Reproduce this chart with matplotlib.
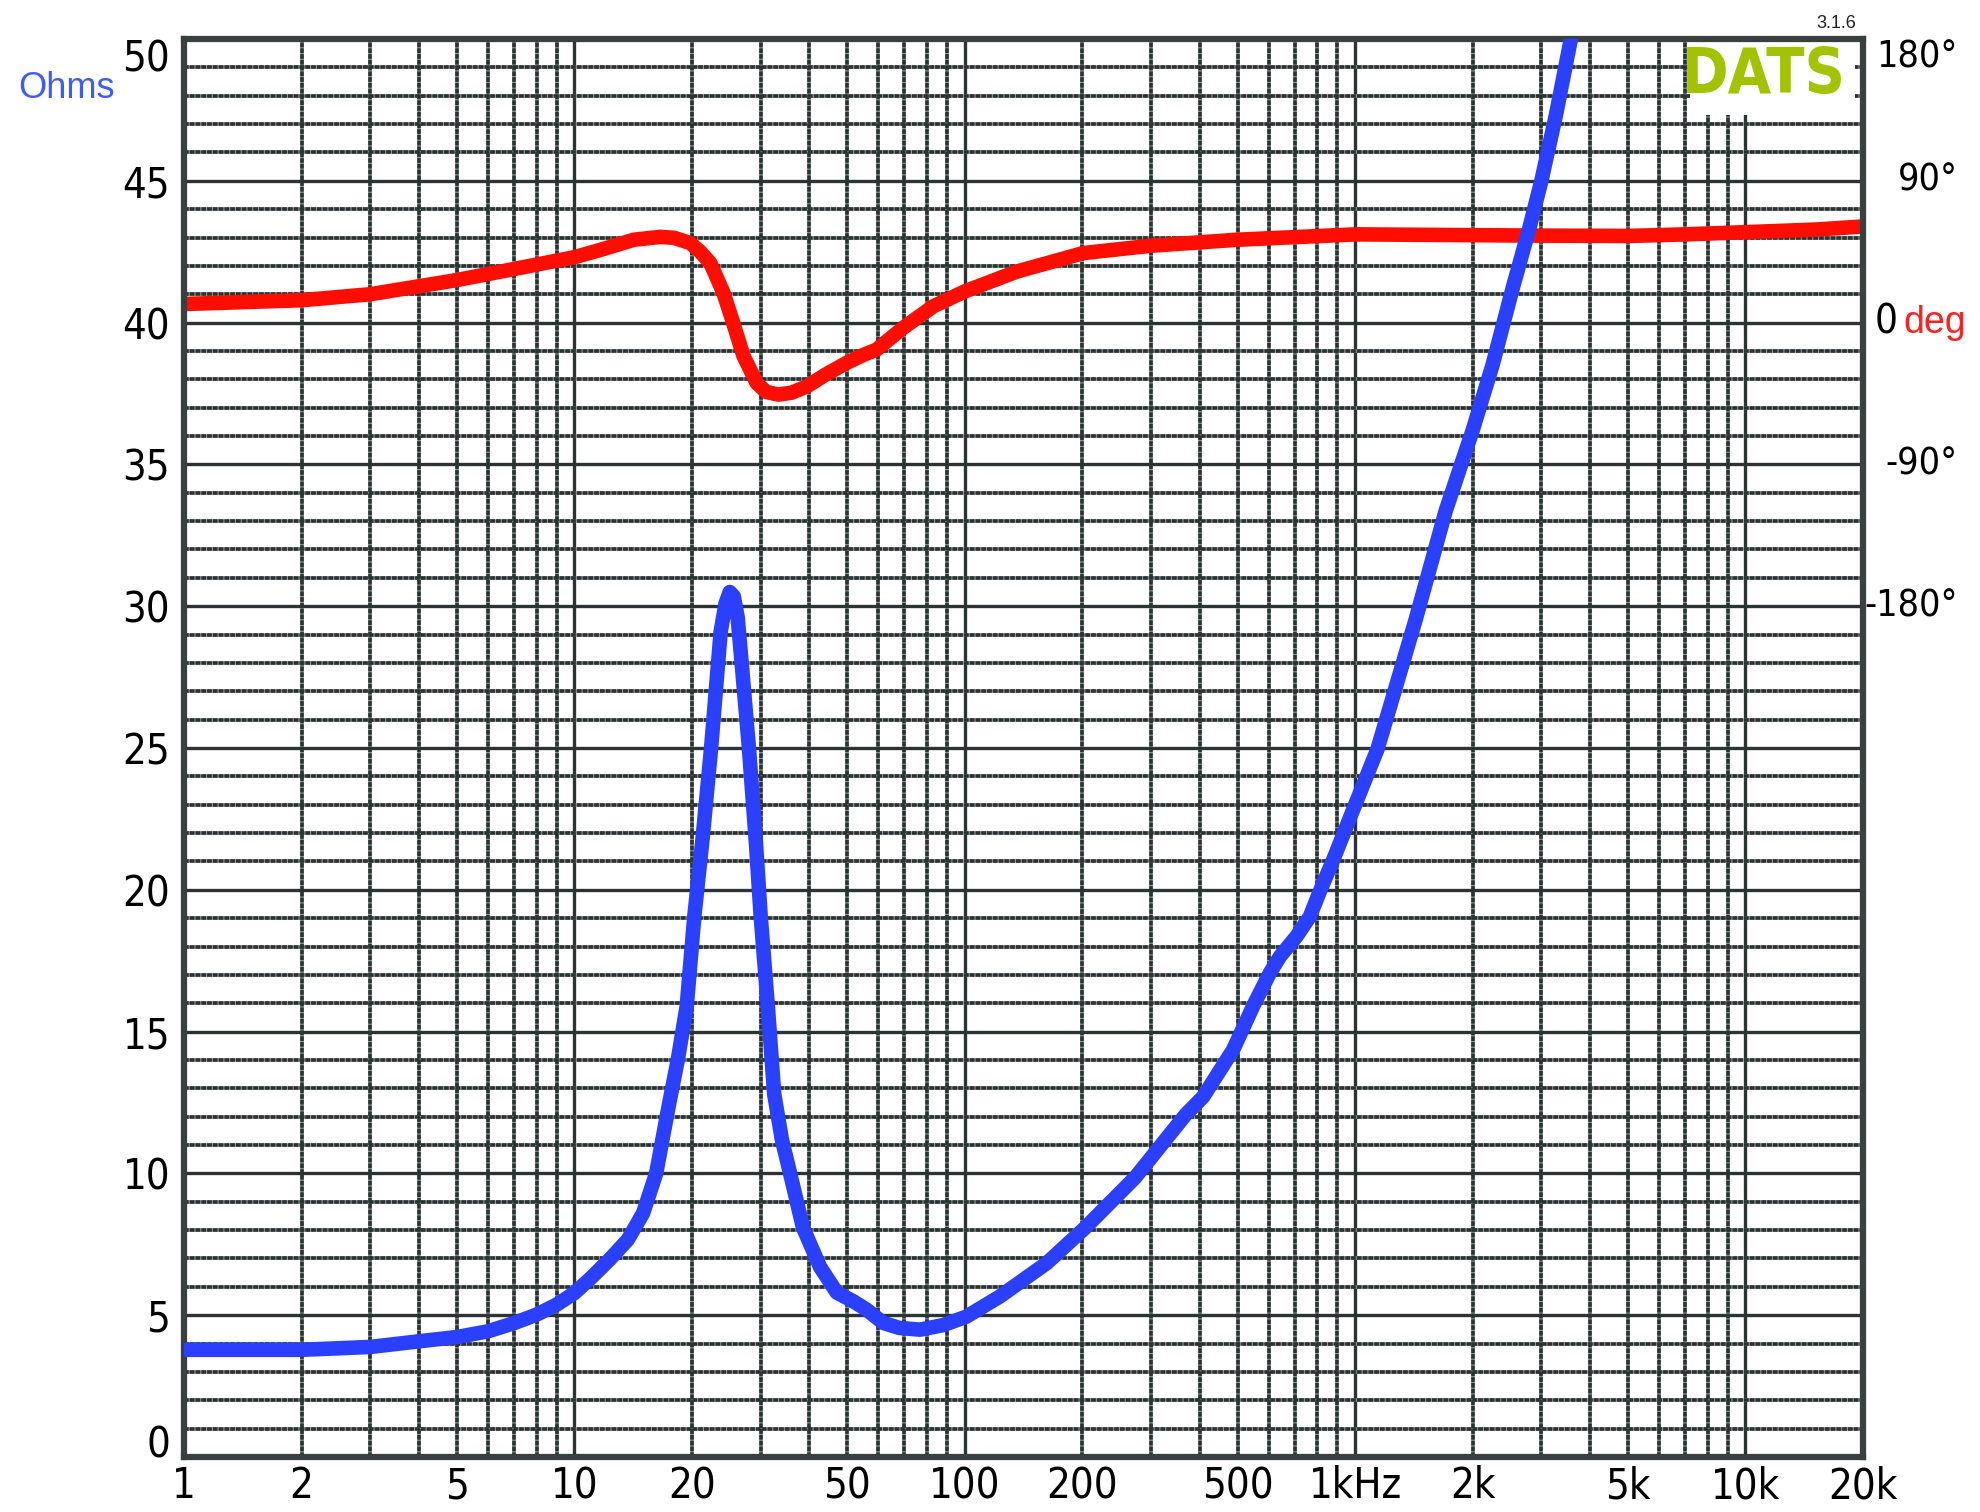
import numpy as np
import matplotlib
matplotlib.use("Agg")
import matplotlib.pyplot as plt
import matplotlib.transforms as mtransforms
from matplotlib import font_manager
from matplotlib.font_manager import FontProperties
from matplotlib.patches import Rectangle

# ---- impedance magnitude (ohms) ----
freq_z = [1, 2, 3, 4, 5, 6, 7, 8, 9, 10, 11, 12.3, 13.7, 15, 16.2, 17.4, 18.4,
          19.4, 20.3, 21.3, 22.4, 23.7, 24.4, 25.0, 25.6, 26.2, 26.9, 28.0, 29.2,
          30.0, 31.3, 32.5, 34.0, 35.7, 38.5, 42.6, 47, 51.8, 56, 61.8, 68, 76.8,
          88, 101, 123, 162, 203, 273, 368, 408, 487, 548, 605, 642, 708, 766,
          812, 879, 966, 1141, 1430, 1706, 2000, 2249, 2531, 2791, 3000, 3267,
          3566, 3800]
ohms = [3.78, 3.78, 3.88, 4.08, 4.23, 4.43, 4.72, 5.02, 5.37, 5.78, 6.3, 6.96,
        7.66, 8.6, 10.0, 12.3, 14.0, 15.9, 19.1, 21.8, 25.0, 29.1, 30.1, 30.5,
        30.35, 29.6, 27.8, 25.0, 21.6, 19.1, 15.9, 12.8, 11.2, 10.0, 8.1, 6.7,
        5.8, 5.49, 5.2, 4.73, 4.55, 4.49, 4.65, 4.95, 5.66, 6.83, 8.07, 9.85,
        12.07, 12.7, 14.36, 15.9, 17.07, 17.65, 18.36, 19.06, 19.94, 21.06,
        22.48, 24.96, 29.54, 33.36, 36.2, 38.5, 41.2, 43.3, 45.0, 47.3, 49.96,
        51.9]

# ---- impedance phase (degrees) ----
freq_ph = [1, 2, 3, 5, 7, 10, 11.6, 14.2, 16.6, 18, 19.8, 21, 22.3, 24.1, 25.5,
           27.1, 29.3, 31, 33.3, 36, 39.4, 44, 49.8, 55, 59.4, 69.5, 83, 100,
           136, 201, 300, 500, 1000, 2000, 3000, 5000, 7000, 10000, 15000, 20000]
phase_deg = [11.8, 14.2, 18, 27, 34, 41.5, 46, 52.6, 54.4, 53.8, 50.5, 45, 37.8,
             18.8, 0, -21, -38.3, -44, -45.7, -44.5, -40.5, -33, -25.6, -20.5,
             -17.2, -3.4, 10.3, 19.8, 32.4, 44.1, 48.8, 52.6, 56, 55.5, 55.2, 55,
             56, 57.4, 59, 61]

x_ticks = [1, 2, 5, 10, 20, 50, 100, 200, 500, 1000, 2000, 5000, 10000, 20000]
x_labels = ["1", "2", "5", "10", "20", "50", "100", "200", "500", "1kHz",
            "2k", "5k", "10k", "20k"]
y_ticks = list(range(0, 51, 5))
phase_ticks = [180, 90, -90, -180]
phase_labels = ["180°", "90°", "-90°", "-180°"]


def find_font(keys, fallback_family, **kw):
    for key in keys:
        for f in font_manager.fontManager.ttflist:
            if key.lower() in f.fname.lower().replace(" ", "").replace("-", ""):
                return FontProperties(fname=f.fname, **kw)
    return FontProperties(family=fallback_family, **kw)


NARROW = find_font(["LiberationSansNarrowRegular", "ArialNarrow.",
                    "DejaVuSansCondensed."], "Liberation Sans")
NARROW_BOLD = find_font(["LiberationSansNarrowBold.", "ArialNarrowBold",
                         "DejaVuSansCondensedBold."], "Liberation Sans")
REG = "Liberation Sans"


def fp(base, size):
    p = base.copy()
    p.set_size(size)
    return p


W, H = 1980, 1512
L, R, T, B = 184, 1863, 39, 1457
fig = plt.figure(figsize=(W / 100, H / 100), dpi=100)
ax = fig.add_axes([L / W, 1 - B / H, (R - L) / W, (B - T) / H])
ax.set_xscale("log")
ax.set_xlim(1, 20000)
ax.set_ylim(0, 50)

GRID = "#2c3333"
LIGHT = "#8f9696"

# vertical grid
for dec in [1, 10, 100, 1000, 10000]:
    for m in range(1, 10):
        f = dec * m
        if f <= 1 or f >= 20000:
            continue
        if m == 1:
            ax.axvline(f, color=GRID, lw=2.4, zorder=1)
        else:
            ax.axvline(f, color=LIGHT, lw=2.6, zorder=1)
            ax.axvline(f, color=GRID, lw=2.6, ls=(0, (1.3, 0.3)), zorder=1.1)

# horizontal grid
for v in range(1, 50):
    if v % 5 == 0:
        ax.axhline(v, color=GRID, lw=2.4, zorder=1)
    else:
        ax.axhline(v, color=LIGHT, lw=2.6, zorder=1)
        ax.axhline(v, color=GRID, lw=2.6, ls=(0, (1.3, 0.3)), zorder=1.1)

# white box behind the logo
ax.add_patch(Rectangle(((1690 - L) / (R - L), 1 - (115 - T) / (B - T)),
                       (1855 - 1690) / (R - L), (115 - T) / (B - T),
                       transform=ax.transAxes, facecolor="white",
                       edgecolor="none", zorder=2))

ax.set_xticks(x_ticks)
ax.set_xticklabels(x_labels)
ax.xaxis.set_minor_locator(matplotlib.ticker.NullLocator())
ax.set_yticks(y_ticks)
ax.set_yticklabels([str(v) for v in y_ticks])
ax.tick_params(length=0, colors="black")
ax.tick_params(axis="y", pad=10)
ax.tick_params(axis="x", pad=6)
for lab in ax.get_xticklabels() + ax.get_yticklabels():
    lab.set_fontproperties(fp(NARROW, 30))
ytl = ax.yaxis.get_major_ticks()
ytl[-1].label1.set_va("top")
ytl[0].label1.set_va("baseline")
for s in ax.spines.values():
    s.set_visible(False)

# phase on a twin axis: 90 deg per 5 ohms, 0 deg at 40 ohms
ax2 = ax.twinx()
ax2.set_ylim(-720, 180)
ax2.plot(freq_ph, phase_deg, color="#ff0d00", lw=10.5, solid_capstyle="round",
         solid_joinstyle="round", zorder=3)
ax2.set_yticks([])
for s in ax2.spines.values():
    s.set_visible(False)

ax3 = ax.twinx()
ax3.set_ylim(0, 50)
ax3.plot(freq_z, ohms, color="#2b3fff", lw=10.5, solid_capstyle="round",
         solid_joinstyle="round", zorder=3)
ax3.set_yticks([])
for s in ax3.spines.values():
    s.set_color("#394040")
    s.set_linewidth(4.5)

# right-hand phase labels
tr = mtransforms.blended_transform_factory(ax.transAxes, ax2.transData)
xr = (1958 - L) / (R - L)
for val, txt in zip(phase_ticks, phase_labels):
    ax2.text(xr, val, txt, transform=tr, ha="right",
             va="top" if val == 180 else "center",
             fontproperties=fp(NARROW, 27), clip_on=False)
ax2.text((1875 - L) / (R - L), 0, "0", transform=tr, ha="left", va="center",
         fontproperties=fp(NARROW, 29), clip_on=False)
ax2.text((1903 - L) / (R - L), 0, "deg", transform=tr, ha="left", va="center",
         fontsize=27, family=REG, color="#ff2020", clip_on=False)

fig.text(18 / W, 1 - 88 / H, "Ohms", fontsize=26, family=REG, color="#3d5cff",
         ha="left", va="center")
fig.text(1764 / W, 1 - 76 / H, "DATS", fontproperties=fp(NARROW_BOLD, 45),
         color="#a3c300", ha="center", va="center", zorder=5)
fig.text(1856 / W, 1 - 24 / H, "3.1.6", fontsize=13, family=REG,
         color="#222222", ha="right", va="center")

fig.savefig("out.png", dpi=100, facecolor="white")
